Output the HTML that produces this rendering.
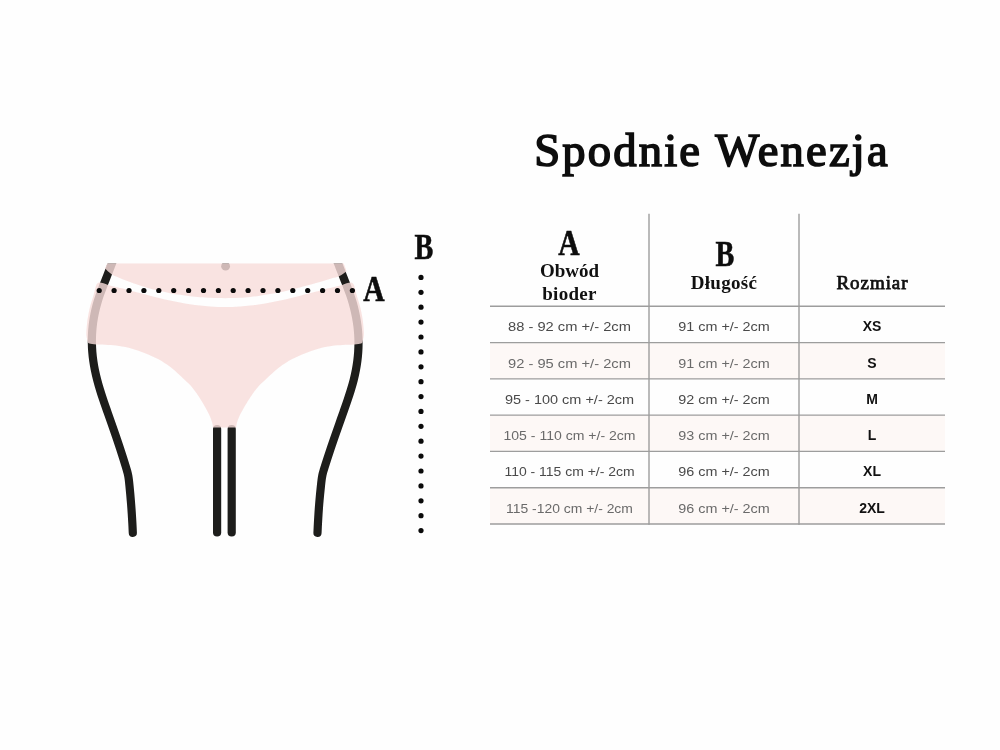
<!DOCTYPE html>
<html lang="pl">
<head>
<meta charset="utf-8">
<title>Spodnie Wenezja - tabela rozmiarów</title>
<style>
  html, body { margin: 0; padding: 0; background: #fefefe; }
  body { width: 1000px; height: 750px; position: relative; overflow: hidden;
         font-family: "Liberation Sans", sans-serif; }
  .abs { position: absolute; }
  .serif { font-family: "Liberation Serif", serif; font-weight: bold; color: #111; white-space: nowrap; }
  h1.title { position: absolute; margin: 0; left: 532px; top: 122.2px; width: 360px; height: 56px;
             font-family: "Liberation Serif", serif; font-weight: normal; font-size: 46.6px; line-height: 56px;
             color: #0d0d0d; white-space: nowrap; text-align: center; letter-spacing: 2.2px;
             -webkit-text-stroke: 1.6px #0d0d0d; }
  .lbl { position: absolute; font-family: "Liberation Serif", serif; font-weight: bold; font-size: 35.2px; -webkit-text-stroke: 0.6px #0d0d0d;
         line-height: 40px; height: 40px; color: #0d0d0d; text-align: center; transform-origin: 50% 50%; }
  .hd  { position: absolute; font-family: "Liberation Serif", serif; font-weight: bold; font-size: 19px;
         line-height: 22.4px; color: #111; text-align: center; white-space: nowrap; }
  .row { position: absolute; left: 490px; width: 455px; height: 36.28px; }
  .row.alt { background: #fdf8f6; }
  .cell { position: absolute; top: 0; height: 36.3px; line-height: 41px; text-align: center;
          font-size: 13px; color: #4a4a4a; white-space: nowrap; }
  .row.alt .cell { color: #6a6a6a; }
  .c1 { left: 0; width: 159px; transform: scaleX(1.13); }
  .c2 { left: 159px; width: 150px; transform: scaleX(1.105); }
  .c3 { left: 309px; width: 146px; font-weight: bold; font-size: 14px; color: #111 !important; }
  svg { position: absolute; left: 0; top: 0; }
</style>
</head>
<body>

<div id="txt" style="position:absolute;left:0;top:0;width:1000px;height:750px;will-change:transform;">
<h1 class="title">Spodnie Wenezja</h1>

<!-- table rows -->
<div class="row"     style="top:306.30px"><div class="cell c1">88 - 92 cm +/- 2cm</div><div class="cell c2">91 cm +/- 2cm</div><div class="cell c3">XS</div></div>
<div class="row alt" style="top:342.58px"><div class="cell c1">92 - 95 cm +/- 2cm</div><div class="cell c2">91 cm +/- 2cm</div><div class="cell c3">S</div></div>
<div class="row"     style="top:378.86px"><div class="cell c1" style="transform:scaleX(1.114)">95 - 100 cm +/- 2cm</div><div class="cell c2">92 cm +/- 2cm</div><div class="cell c3">M</div></div>
<div class="row alt" style="top:415.14px"><div class="cell c1" style="transform:scaleX(1.08)">105 - 110 cm +/- 2cm</div><div class="cell c2">93 cm +/- 2cm</div><div class="cell c3">L</div></div>
<div class="row"     style="top:451.42px"><div class="cell c1" style="transform:scaleX(1.073)">110 - 115 cm +/- 2cm</div><div class="cell c2">96 cm +/- 2cm</div><div class="cell c3">XL</div></div>
<div class="row alt" style="top:487.70px"><div class="cell c1" style="transform:scaleX(1.069)">115 -120 cm +/- 2cm</div><div class="cell c2">96 cm +/- 2cm</div><div class="cell c3">2XL</div></div>

<!-- header labels -->
<div class="lbl" id="tA" style="left:549.2px; top:224.1px; width:40px; transform:scaleX(0.84)">A</div>
<div class="hd"  id="h1a" style="left:490px; top:260.1px; width:159px;">Obwód</div>
<div class="hd"  id="h1b" style="left:490px; top:282.7px; width:159px; letter-spacing:0.3px;">bioder</div>
<div class="lbl" id="tB" style="left:704.5px; top:235.4px; width:40px; transform:scaleX(0.80)">B</div>
<div class="hd"  id="h2" style="left:649px; top:271.7px; width:150px; letter-spacing:0.3px;">Długość</div>
<div class="hd"  id="h3" style="left:799.5px; top:271.7px; width:146px; font-weight:normal; letter-spacing:0.95px; -webkit-text-stroke:0.75px #111;">Rozmiar</div>

<!-- illustration labels -->
<div class="lbl" id="iA" style="left:353.7px; top:270.2px; width:40px; transform:scaleX(0.84)">A</div>
<div class="lbl" id="iB" style="left:404px; top:228.4px; width:40px; transform:scaleX(0.80)">B</div>
</div>

<svg width="1000" height="750" viewBox="0 0 1000 750">
  <!-- table lines -->
  <g stroke="#9d9d9d" stroke-width="1.4" fill="none">
    <line x1="649" y1="213.7" x2="649" y2="524.68"/>
    <line x1="799" y1="213.7" x2="799" y2="524.68"/>
    <line x1="490" y1="306.30" x2="945" y2="306.30"/>
    <line x1="490" y1="342.58" x2="945" y2="342.58"/>
    <line x1="490" y1="378.86" x2="945" y2="378.86"/>
    <line x1="490" y1="415.14" x2="945" y2="415.14"/>
    <line x1="490" y1="451.42" x2="945" y2="451.42"/>
    <line x1="490" y1="487.70" x2="945" y2="487.70"/>
    <line x1="490" y1="523.98" x2="945" y2="523.98"/>
  </g>

  <!-- body outline -->
  <g id="body" stroke="#1d1d1b" stroke-width="8.2" fill="none" stroke-linecap="round" stroke-linejoin="round">
    <path id="legL" d="M113.62,259.00 C113.36,259.67 112.79,261.17 112.08,263.00 C111.37,264.83 110.35,267.50 109.38,270.00 C108.41,272.50 107.32,275.33 106.28,278.00 C105.24,280.67 104.14,283.33 103.12,286.00 C102.10,288.67 101.07,291.33 100.14,294.00 C99.21,296.67 98.33,299.33 97.54,302.00 C96.76,304.67 96.05,307.33 95.43,310.00 C94.81,312.67 94.27,315.33 93.81,318.00 C93.35,320.67 92.98,323.33 92.68,326.00 C92.38,328.67 92.17,331.17 92.03,334.00 C91.89,336.83 91.83,340.00 91.87,343.00 C91.92,346.00 92.06,349.00 92.30,352.00 C92.54,355.00 92.88,358.00 93.31,361.00 C93.74,364.00 94.22,366.83 94.87,370.00 C95.52,373.17 96.34,376.67 97.20,380.00 C98.06,383.33 99.03,386.67 100.05,390.00 C101.06,393.33 102.06,396.33 103.29,400.00 C104.52,403.67 106.05,408.00 107.45,412.00 C108.85,416.00 110.29,420.00 111.69,424.00 C113.09,428.00 114.49,432.00 115.86,436.00 C117.23,440.00 118.68,444.33 119.89,448.00 C121.10,451.67 122.16,455.00 123.11,458.00 C124.06,461.00 124.98,464.00 125.60,466.00 C126.21,468.00 126.46,468.83 126.80,470.00 C127.14,471.17 127.38,472.00 127.63,473.00 C127.88,474.00 128.07,474.83 128.28,476.00 C128.49,477.17 128.67,478.33 128.87,480.00 C129.07,481.67 129.27,483.67 129.50,486.00 C129.73,488.33 129.99,491.00 130.26,494.00 C130.53,497.00 130.84,500.67 131.10,504.00 C131.36,507.33 131.59,510.67 131.81,514.00 C132.03,517.33 132.23,520.85 132.40,524.00 C132.57,527.15 132.74,531.42 132.81,532.90"/>
    <path id="legR" d="M336.38,259.00 C336.64,259.67 337.21,261.17 337.92,263.00 C338.63,264.83 339.65,267.50 340.62,270.00 C341.59,272.50 342.68,275.33 343.72,278.00 C344.76,280.67 345.86,283.33 346.88,286.00 C347.90,288.67 348.93,291.33 349.86,294.00 C350.79,296.67 351.67,299.33 352.46,302.00 C353.25,304.67 353.94,307.33 354.57,310.00 C355.20,312.67 355.75,315.33 356.23,318.00 C356.72,320.67 357.14,323.33 357.47,326.00 C357.81,328.67 358.06,331.17 358.23,334.00 C358.41,336.83 358.52,340.00 358.52,343.00 C358.51,346.00 358.41,349.00 358.21,352.00 C358.01,355.00 357.71,358.00 357.33,361.00 C356.94,364.00 356.50,366.83 355.89,370.00 C355.29,373.17 354.54,376.67 353.70,380.00 C352.86,383.33 351.86,386.67 350.85,390.00 C349.83,393.33 348.84,396.33 347.61,400.00 C346.38,403.67 344.85,408.00 343.45,412.00 C342.05,416.00 340.62,420.00 339.21,424.00 C337.80,428.00 336.38,432.00 334.99,436.00 C333.60,440.00 332.10,444.33 330.86,448.00 C329.62,451.67 328.53,455.00 327.55,458.00 C326.57,461.00 325.62,464.00 324.99,466.00 C324.36,468.00 324.11,468.83 323.76,470.00 C323.41,471.17 323.16,472.00 322.90,473.00 C322.65,474.00 322.44,474.83 322.23,476.00 C322.01,477.17 321.82,478.33 321.60,480.00 C321.38,481.67 321.17,483.67 320.92,486.00 C320.67,488.33 320.38,491.00 320.09,494.00 C319.80,497.00 319.47,500.67 319.20,504.00 C318.93,507.33 318.71,510.67 318.49,514.00 C318.27,517.33 318.07,520.85 317.90,524.00 C317.73,527.15 317.56,531.42 317.49,532.90"/>
    <line x1="217.1" y1="429" x2="217.1" y2="532.5"/>
    <line x1="231.7" y1="429" x2="231.7" y2="532.5"/>
  </g>
  <!-- belly button -->
  <circle cx="225.6" cy="266.2" r="4.4" fill="#1d1d1b"/>

  <!-- pink shapes (semi transparent over outline) -->
  <g fill="rgb(247,221,218)" fill-opacity="0.81">
    <!-- waist -->
    <path id="waist" d="M107.2,263.3 L343.6,263.3 L346.60,271.20 C345.33,272.05 341.43,275.12 339.00,276.31 C336.57,277.51 334.50,277.63 332.00,278.37 C329.50,279.10 326.67,279.94 324.00,280.72 C321.33,281.50 318.67,282.28 316.00,283.04 C313.33,283.80 310.67,284.56 308.00,285.30 C305.33,286.03 303.00,286.67 300.00,287.45 C297.00,288.22 293.33,289.16 290.00,289.95 C286.67,290.74 283.33,291.49 280.00,292.19 C276.67,292.88 273.33,293.54 270.00,294.12 C266.67,294.71 263.33,295.24 260.00,295.71 C256.67,296.18 253.33,296.59 250.00,296.93 C246.67,297.27 243.00,297.55 240.00,297.75 C237.00,297.94 234.45,298.03 232.00,298.11 C229.55,298.18 227.63,298.20 225.30,298.20 C222.97,298.20 220.55,298.18 218.00,298.11 C215.45,298.05 213.00,297.98 210.00,297.83 C207.00,297.67 203.33,297.44 200.00,297.17 C196.67,296.90 193.33,296.57 190.00,296.18 C186.67,295.79 183.33,295.35 180.00,294.84 C176.67,294.33 173.33,293.77 170.00,293.13 C166.67,292.50 163.33,291.80 160.00,291.03 C156.67,290.26 153.00,289.31 150.00,288.50 C147.00,287.69 144.67,286.99 142.00,286.15 C139.33,285.32 136.67,284.43 134.00,283.49 C131.33,282.55 128.67,281.55 126.00,280.49 C123.33,279.43 120.42,278.20 118.00,277.14 C115.58,276.08 113.67,275.59 111.50,274.13 C109.33,272.67 106.08,269.35 105.00,268.40 Z"/>
    <!-- panty -->
    <path id="panty" d="M99.60,282.50 C100.25,282.63 102.10,282.88 103.50,283.30 C104.90,283.72 106.25,284.52 108.00,285.03 C109.75,285.54 111.67,285.83 114.00,286.38 C116.33,286.93 119.33,287.66 122.00,288.33 C124.67,289.00 127.00,289.61 130.00,290.39 C133.00,291.18 136.67,292.17 140.00,293.05 C143.33,293.93 146.67,294.82 150.00,295.68 C153.33,296.54 156.67,297.39 160.00,298.20 C163.33,299.00 166.67,299.79 170.00,300.51 C173.33,301.24 176.67,301.93 180.00,302.55 C183.33,303.18 186.67,303.75 190.00,304.26 C193.33,304.76 196.67,305.21 200.00,305.58 C203.33,305.95 207.00,306.26 210.00,306.48 C213.00,306.70 215.48,306.80 218.00,306.88 C220.52,306.97 222.73,307.00 225.10,307.00 C227.47,307.00 229.68,306.97 232.20,306.88 C234.72,306.80 237.20,306.70 240.20,306.48 C243.20,306.26 246.87,305.95 250.20,305.58 C253.53,305.21 256.87,304.76 260.20,304.26 C263.53,303.75 266.87,303.18 270.20,302.55 C273.53,301.93 276.87,301.24 280.20,300.51 C283.53,299.79 286.87,299.00 290.20,298.20 C293.53,297.39 296.87,296.54 300.20,295.68 C303.53,294.82 306.87,293.93 310.20,293.05 C313.53,292.17 317.20,291.18 320.20,290.39 C323.20,289.61 325.53,289.00 328.20,288.33 C330.87,287.66 333.87,286.93 336.20,286.38 C338.53,285.83 340.45,285.54 342.20,285.03 C343.95,284.52 345.30,283.72 346.70,283.30 C348.10,282.88 349.95,282.63 350.60,282.50 Q353.20,282.30 354.30,286.00 C354.52,286.83 355.22,289.50 355.60,291.00 C355.98,292.50 355.83,292.33 356.60,295.00 C357.37,297.67 359.20,303.00 360.20,307.00 C361.20,311.00 362.00,315.00 362.60,319.00 C363.20,323.00 363.62,328.17 363.80,331.00 C363.98,333.83 363.90,334.25 363.70,336.00 C363.50,337.75 362.78,340.58 362.60,341.50 Q362.50,343.40 361.00,343.50 C359.87,343.68 357.32,344.33 354.23,344.60 C351.14,344.87 346.27,344.87 342.47,345.10 C338.68,345.33 335.47,345.41 331.46,346.00 C327.45,346.59 322.77,347.45 318.41,348.65 C314.06,349.85 309.70,351.47 305.34,353.20 C300.98,354.93 296.61,356.62 292.24,359.00 C287.87,361.38 283.49,364.13 279.10,367.50 C274.71,370.87 269.22,376.20 265.90,379.20 C262.59,382.20 261.31,383.20 259.20,385.50 C257.10,387.80 255.15,390.42 253.28,393.00 C251.40,395.58 249.62,398.33 247.94,401.00 C246.26,403.67 244.69,406.33 243.21,409.00 C241.73,411.67 240.15,414.60 239.07,417.00 C238.00,419.40 237.26,421.65 236.77,423.40 C236.27,425.15 236.21,426.82 236.10,427.50 L213.00,427.50 C212.90,426.82 212.87,425.15 212.40,423.40 C211.93,421.65 211.23,419.40 210.20,417.00 C209.17,414.60 207.63,411.67 206.20,409.00 C204.77,406.33 203.23,403.67 201.60,401.00 C199.97,398.33 198.23,395.58 196.40,393.00 C194.57,390.42 192.67,387.80 190.60,385.50 C188.53,383.20 187.27,382.20 184.00,379.20 C180.73,376.20 175.33,370.87 171.00,367.50 C166.67,364.13 162.33,361.38 158.00,359.00 C153.67,356.62 149.33,354.93 145.00,353.20 C140.67,351.47 136.33,349.85 132.00,348.65 C127.67,347.45 123.00,346.59 119.00,346.00 C115.00,345.41 111.79,345.33 108.00,345.10 C104.21,344.87 99.33,344.87 96.25,344.60 C93.17,344.33 90.62,343.68 89.50,343.50 Q87.9,343.4 87.60,341.50 C87.42,340.58 86.70,337.75 86.50,336.00 C86.30,334.25 86.22,333.83 86.40,331.00 C86.58,328.17 87.00,323.00 87.60,319.00 C88.20,315.00 89.00,311.00 90.00,307.00 C91.00,303.00 92.83,297.67 93.60,295.00 C94.37,292.33 94.22,292.50 94.60,291.00 C94.98,289.50 95.68,286.83 95.90,286.00 Q97.0,282.3 99.60,282.50 Z"/>
  </g>
  <!-- cover anything above the top edge -->
  <rect x="90" y="250" width="270" height="13.3" fill="#fefefe"/>

  <!-- dotted lines -->
  <g fill="#0a0a0a">
    <g id="hdots"><circle cx="99.2" cy="290.5" r="2.6"/><circle cx="114.1" cy="290.5" r="2.6"/><circle cx="129.0" cy="290.5" r="2.6"/><circle cx="143.9" cy="290.5" r="2.6"/><circle cx="158.8" cy="290.5" r="2.6"/><circle cx="173.7" cy="290.5" r="2.6"/><circle cx="188.6" cy="290.5" r="2.6"/><circle cx="203.5" cy="290.5" r="2.6"/><circle cx="218.4" cy="290.5" r="2.6"/><circle cx="233.2" cy="290.5" r="2.6"/><circle cx="248.1" cy="290.5" r="2.6"/><circle cx="263.0" cy="290.5" r="2.6"/><circle cx="277.9" cy="290.5" r="2.6"/><circle cx="292.8" cy="290.5" r="2.6"/><circle cx="307.7" cy="290.5" r="2.6"/><circle cx="322.6" cy="290.5" r="2.6"/><circle cx="337.5" cy="290.5" r="2.6"/><circle cx="352.4" cy="290.5" r="2.6"/></g>
    <g id="vdots"><circle cx="421" cy="277.4" r="2.6"/><circle cx="421" cy="292.3" r="2.6"/><circle cx="421" cy="307.2" r="2.6"/><circle cx="421" cy="322.1" r="2.6"/><circle cx="421" cy="337.0" r="2.6"/><circle cx="421" cy="351.9" r="2.6"/><circle cx="421" cy="366.8" r="2.6"/><circle cx="421" cy="381.7" r="2.6"/><circle cx="421" cy="396.6" r="2.6"/><circle cx="421" cy="411.4" r="2.6"/><circle cx="421" cy="426.3" r="2.6"/><circle cx="421" cy="441.2" r="2.6"/><circle cx="421" cy="456.1" r="2.6"/><circle cx="421" cy="471.0" r="2.6"/><circle cx="421" cy="485.9" r="2.6"/><circle cx="421" cy="500.8" r="2.6"/><circle cx="421" cy="515.7" r="2.6"/><circle cx="421" cy="530.6" r="2.6"/></g>
  </g>
</svg>
</body>
</html>
